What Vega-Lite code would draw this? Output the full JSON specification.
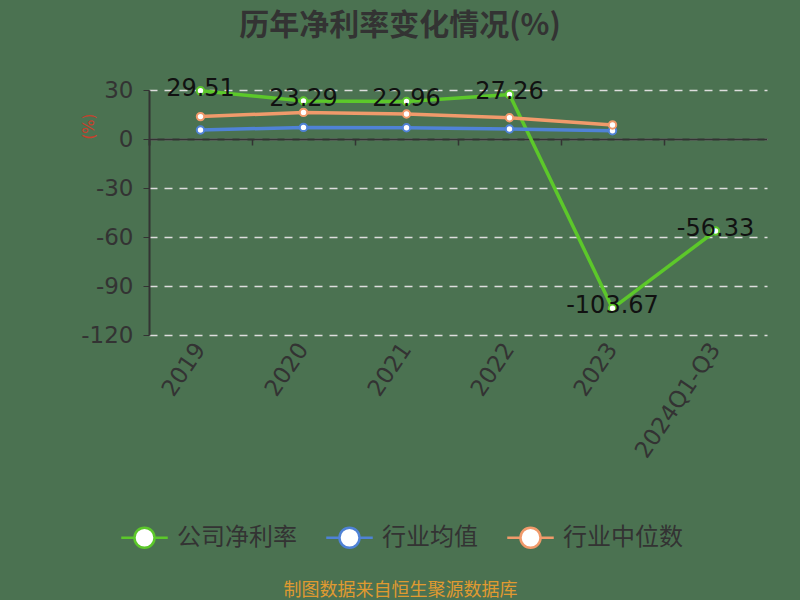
{
  "$schema": "https://vega.github.io/schema/vega-lite/v6.json",
  "description": "历年净利率变化情况(%)",
  "autosize": {"type": "none"},
  "width": 618,
  "height": 245,
  "padding": {"left": 149, "top": 90, "right": 33, "bottom": 265},
  "background": "#4b7251",
  "title": {
    "text": "历年净利率变化情况(%)",
    "anchor": "middle",
    "dx": -58,
    "offset": 36,
    "fontSize": 30,
    "fontWeight": "bold",
    "color": "#333333",
    "font": "Noto Sans CJK SC"
  },
  "data": {
    "values": [
      {"year": "2019", "series": "公司净利率", "value": 29.51},
      {"year": "2020", "series": "公司净利率", "value": 23.29},
      {"year": "2021", "series": "公司净利率", "value": 22.96},
      {"year": "2022", "series": "公司净利率", "value": 27.26},
      {"year": "2023", "series": "公司净利率", "value": -103.67},
      {"year": "2024Q1-Q3", "series": "公司净利率", "value": -56.33},
      {"year": "2019", "series": "行业均值", "value": 5.5},
      {"year": "2020", "series": "行业均值", "value": 7.1},
      {"year": "2021", "series": "行业均值", "value": 6.9},
      {"year": "2022", "series": "行业均值", "value": 6.1},
      {"year": "2023", "series": "行业均值", "value": 5.1},
      {"year": "2019", "series": "行业中位数", "value": 13.7},
      {"year": "2020", "series": "行业中位数", "value": 16.3},
      {"year": "2021", "series": "行业中位数", "value": 15.3},
      {"year": "2022", "series": "行业中位数", "value": 13.0},
      {"year": "2023", "series": "行业中位数", "value": 8.6}
    ]
  },
  "encoding": {
    "y": {
      "field": "value",
      "type": "quantitative",
      "scale": {"domain": [-120, 30], "nice": false, "zero": false},
      "axis": {
        "values": [-120, -90, -60, -30, 0, 30],
        "labelExpr": "'' + datum.value",
        "title": "(%)",
        "titleColor": "#c8402c",
        "titleFont": "DejaVu Sans",
        "titleFontSize": 15,
        "titleFontWeight": "normal",
        "titleAngle": -90,
        "titleX": -61,
        "titleY": 36,
        "titleAlign": "center",
        "titleBaseline": "middle",
        "domain": true,
        "domainColor": "#333333",
        "domainWidth": 2,
        "ticks": true,
        "tickColor": "#333333",
        "tickSize": 6,
        "labelFont": "DejaVu Sans",
        "labelFontSize": 23,
        "labelColor": "#333333",
        "labelPadding": 10,
        "grid": true,
        "gridColor": "#dddddd",
        "gridDash": [8, 7],
        "gridWidth": 1.5
      }
    }
  },
  "layer": [
    {
      "mark": {"type": "point", "opacity": 0},
      "encoding": {
        "x": {
          "field": "year",
          "type": "ordinal",
          "sort": null,
          "scale": {"type": "band", "paddingInner": 0, "paddingOuter": 0},
          "axis": {
            "orient": "bottom",
            "offset": -196,
            "labels": false,
            "title": null,
            "grid": false,
            "domain": true,
            "domainColor": "#333333",
            "domainWidth": 2,
            "ticks": true,
            "tickColor": "#333333",
            "tickWidth": 1.5,
            "tickSize": 6,
            "bandPosition": 0,
            "tickExtra": true
          }
        }
      }
    },
    {
      "mark": {"type": "line", "strokeWidth": 3.5},
      "encoding": {
        "x": {
          "field": "year",
          "type": "ordinal",
          "sort": null,
          "bandPosition": 0.5,
          "scale": {"type": "band", "paddingInner": 0, "paddingOuter": 0},
          "axis": {
            "orient": "bottom",
            "domain": false,
            "ticks": false,
            "grid": false,
            "labelAngle": -56,
            "labelFont": "DejaVu Sans",
            "labelFontSize": 23,
            "labelColor": "#333333",
            "labelPadding": 10,
            "title": "制图数据来自恒生聚源数据库",
            "titleColor": "#e09a30",
            "titleFontSize": 18,
            "titleFontWeight": "normal",
            "titleX": 251,
            "titleY": 255,
            "titleAlign": "center",
            "titleBaseline": "middle"
          }
        },
        "color": {
          "field": "series",
          "type": "nominal",
          "scale": {
            "domain": ["公司净利率", "行业均值", "行业中位数"],
            "range": ["#5cc82a", "#4f82d6", "#f19a6b"]
          },
          "legend": {
            "title": null,
            "orient": "none",
            "direction": "horizontal",
            "legendX": -21,
            "legendY": 431,
            "symbolType": "M-1.55,0H-0.67M0.67,0H1.55M0.67,0A0.67,0.67,0,1,1,-0.67,0A0.67,0.67,0,1,1,0.67,0Z",
            "symbolSize": 900,
            "symbolStrokeWidth": 2.5,
            "symbolFillColor": "white",
            "labelFontSize": 24,
            "labelColor": "#333333",
            "labelOffset": 16,
            "columnPadding": 24
          }
        }
      }
    },
    {
      "mark": {"type": "point", "filled": false, "fill": "white", "size": 55, "strokeWidth": 2, "opacity": 1},
      "encoding": {
        "x": {"field": "year", "type": "ordinal", "sort": null, "bandPosition": 0.5, "axis": null},
        "color": {"field": "series", "type": "nominal", "legend": null}
      }
    },
    {
      "transform": [{"filter": "datum.series === '公司净利率'"}],
      "mark": {"type": "text", "font": "DejaVu Sans", "fontSize": 24, "color": "#111111", "dy": -2},
      "encoding": {
        "x": {"field": "year", "type": "ordinal", "sort": null, "bandPosition": 0.5, "axis": null},
        "text": {"field": "value", "type": "nominal"}
      }
    }
  ],
  "resolve": {"axis": {"x": "independent"}, "scale": {"x": "shared"}},
  "config": {"view": {"stroke": null}, "font": "Noto Sans CJK SC"}
}
